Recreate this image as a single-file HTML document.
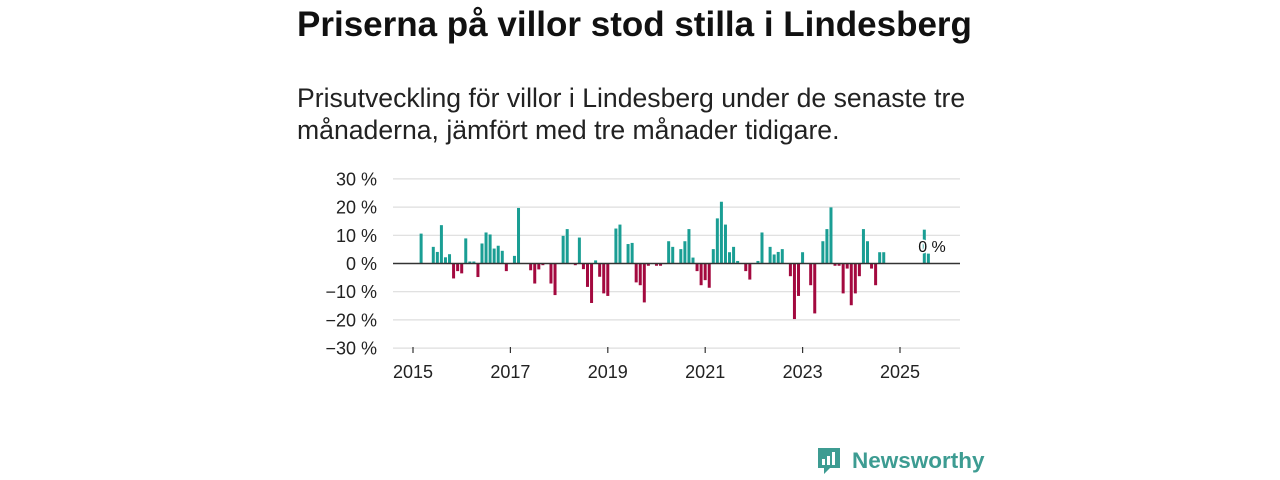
<!DOCTYPE html>
<html><head><meta charset="utf-8">
<style>
body{margin:0;width:1280px;height:480px;background:#fff;font-family:"Liberation Sans","DejaVu Sans",sans-serif;color:#111;position:relative;overflow:hidden}
#title{position:absolute;left:297px;top:5px;font-size:35px;font-weight:bold;letter-spacing:0px;margin:0;white-space:nowrap}
#sub{position:absolute;left:297px;top:82px;font-size:26.6px;line-height:32px;color:#222;width:720px}
svg{position:absolute;left:0;top:0}
</style></head><body>
<h1 id="title">Priserna på villor stod stilla i Lindesberg</h1>
<div id="sub">Prisutveckling för villor i Lindesberg under de senaste tre månaderna, jämfört med tre månader tidigare.</div>
<svg id="chart" width="1280" height="480"></svg>
<div style="position:absolute;left:816px;top:446px;display:flex;align-items:center">
<svg width="26" height="30" style="position:static"><path d="M2 2h22v20H14l-6 6v-6H2z" fill="#3d9c92"/><rect x="6" y="13" width="3" height="6" fill="#fff"/><rect x="11" y="10" width="3" height="9" fill="#fff"/><rect x="16" y="6" width="3" height="13" fill="#fff"/></svg>
<span style="font-size:22.5px;font-weight:bold;color:#3d9c92;margin-left:10px">Newsworthy</span></div>
<script>
const months=[2,5,6,7,8,9,10,11,12,13,14,15,16,17,18,19,20,21,22,23,25,26,29,30,31,32,34,35,37,38,40,41,42,43,44,45,46,47,48,50,51,53,54,55,56,57,58,60,61,63,64,66,67,68,69,70,71,72,73,74,75,76,77,78,79,80,82,83,85,86,88,89,90,91,93,94,95,96,98,99,101,102,103,104,105,106,107,108,109,110,111,112,113,114,115,116,126,127];
const values=[10.6,5.9,4.1,13.6,2.2,3.3,-5.3,-2.7,-3.5,8.9,0.7,0.7,-4.8,7.1,11,10.3,5.3,6.3,4.5,-2.7,2.7,19.7,-2.4,-7.1,-2.1,-0.6,-7.1,-11.2,9.8,12.2,-0.6,9.2,-2,-8.3,-14,1.1,-4.7,-10.6,-11.5,12.4,13.8,6.9,7.3,-6.7,-7.7,-13.8,-0.8,-0.8,-0.8,7.9,5.9,5.1,7.9,12.2,2.1,-2.7,-7.7,-5.9,-8.6,5.1,16,21.9,13.8,4,5.9,0.9,-2.7,-5.7,0.9,11,5.9,3.2,4.1,5.1,-4.5,-19.7,-11.5,4,-7.7,-17.7,7.9,12.2,19.9,-0.8,-0.8,-10.6,-1.8,-14.8,-10.6,-4.5,12.2,7.9,-1.8,-7.7,4,4,12,3.5];
const yTicks=[30,20,10,0,-10,-20,-30];
const xTickYears=[2015,2017,2019,2021,2023,2025];
const NS='http://www.w3.org/2000/svg';
const svg=document.getElementById('chart');
const y=v=>263.5-v*2.82;
const xm=m=>413+m*4.058;
const xy=yr=>413+(yr-2015)*48.7;
function mk(t,a){const e=document.createElementNS(NS,t);for(const k in a)e.setAttribute(k,a[k]);svg.appendChild(e);return e;}
yTicks.forEach(v=>{
  if(v!==0){const g=mk('line',{x1:393,x2:960,y1:y(v),y2:y(v),stroke:'#ddd','stroke-width':1.2});
  
  }
  const t=mk('text',{x:377,y:y(v)+6.5,'text-anchor':'end','font-size':18,fill:'#222'});
  t.textContent=(v<0?'\u2212'+(-v):v)+' %';
  
  
});
xTickYears.forEach(yr=>{
  const l=mk('line',{x1:xy(yr),x2:xy(yr),y1:347,y2:353,stroke:'#333','stroke-width':1.2});
  
  
  const t=mk('text',{x:xy(yr),y:378,'text-anchor':'middle','font-size':18,fill:'#222'});
  t.textContent=yr;
  
  
});
months.forEach((m,i)=>{
  const v=values[i];
  const r=mk('rect',{x:xm(m)-1.5,width:3,y:Math.min(y(v),y(0)),height:Math.abs(y(v)-y(0)),fill:v>=0?'#1a9e94':'#a3093f'});
  
  
});
const z=mk('line',{x1:393,x2:960,y1:y(0),y2:y(0),stroke:'#333','stroke-width':1.6});


const lb=mk('text',{x:932,y:252,'text-anchor':'middle','font-size':16,fill:'#111',stroke:'#fff','stroke-width':3,'paint-order':'stroke'});
lb.textContent='0 %';


</script>
</body></html>
